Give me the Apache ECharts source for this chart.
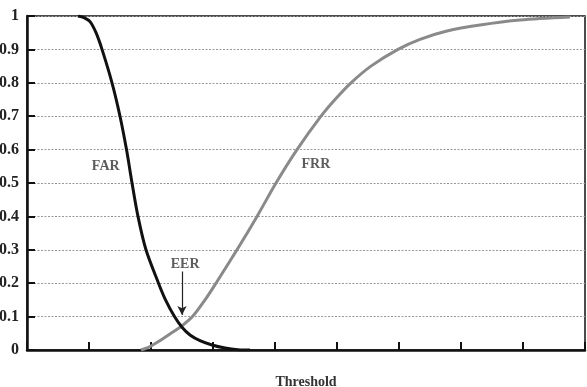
<!DOCTYPE html>
<html><head><meta charset="utf-8">
<script src="https://cdn.jsdelivr.net/npm/echarts@6/dist/echarts.min.js"></script>
<style>html,body{margin:0;padding:0;background:#fff}#c{width:587px;height:387px}</style>
</head><body><div id="c"></div>
<script>
var farX = [0.823, 0.919, 1.016, 1.113, 1.210, 1.371, 1.500, 1.605, 1.694, 1.790, 1.919, 2.121, 2.234, 2.379, 2.500, 2.629, 2.790, 2.984, 3.194, 3.403, 3.597];
var farY = [1.0, 0.995, 0.983, 0.95, 0.9, 0.8, 0.7, 0.6, 0.5, 0.4, 0.3, 0.2, 0.15, 0.1, 0.068, 0.045, 0.028, 0.015, 0.006, 0.001, 0.0];
var frrX = [1.839, 1.984, 2.161, 2.323, 2.516, 2.669, 2.871, 3.048, 3.387, 3.710, 4.016, 4.355, 4.742, 4.968, 5.226, 5.548, 5.984, 6.339, 6.774, 7.306, 7.952, 8.758];
var frrY = [0.0, 0.01, 0.03, 0.05, 0.075, 0.1, 0.15, 0.2, 0.3, 0.4, 0.5, 0.6, 0.7, 0.75, 0.8, 0.85, 0.9, 0.93, 0.955, 0.973, 0.988, 0.997];
var curveLabels = [{name: 'FAR', x: 1.27, y: 0.551}, {name: 'FRR', x: 4.66, y: 0.557}];
var eer = {name: 'EER', x: 2.5, labelX: 2.55, labelY: 0.255, arrowFrom: 0.235, arrowTo: 0.105};
var xAxisName = 'Threshold';

function pairs(xs, ys){ return xs.map(function(x,i){ return [x, ys[i]]; }); }
var serif = 'Liberation Serif';
var chart = echarts.init(document.getElementById('c'));
chart.setOption({
  animation: false,
  grid: {left: 27, right: 2, top: 16, bottom: 37, show: true, borderColor: '#111', borderWidth: 1.5,
         containLabel: false, outerBoundsMode: 'none'},
  xAxis: {
    type: 'value', min: 0, max: 9, interval: 1,
    name: xAxisName, nameLocation: 'middle', nameGap: 25,
    nameTextStyle: {fontFamily: serif, fontSize: 14, color: '#333', fontWeight: 'bold'},
    axisLine: {show: true, onZero: false, lineStyle: {color: '#111', width: 2.5}},
    axisTick: {show: true, inside: true, length: 8, lineStyle: {color: '#111', width: 2}},
    axisLabel: {show: false},
    splitLine: {show: false}
  },
  yAxis: {
    type: 'value', min: 0, max: 1, interval: 0.1,
    axisLine: {show: true, lineStyle: {color: '#111', width: 2.5}},
    axisTick: {show: true, inside: true, length: 8, lineStyle: {color: '#111', width: 2}},
    axisLabel: {fontFamily: serif, fontSize: 16, fontWeight: 'bold', color: '#222', margin: 8,
      formatter: function(v){ return (Math.round(v*10)/10).toString(); }},
    splitLine: {show: true, lineStyle: {color: '#999', width: 1, type: [2, 1.5]}}
  },
  series: [
    {type: 'line', name: 'FAR', data: pairs(farX, farY), smooth: 0.3, symbol: 'none',
     lineStyle: {color: '#111', width: 3}, z: 3},
    {type: 'line', name: 'FRR', data: pairs(frrX, frrY), smooth: 0.3, symbol: 'none',
     lineStyle: {color: '#8a8a8a', width: 3}, z: 2,
     markLine: {silent: true, symbol: ['none', 'arrow'], symbolSize: [7, 9],
       lineStyle: {color: '#222', width: 1.2, type: 'solid'}, label: {show: false},
       data: [[{coord: [eer.x, eer.arrowFrom]}, {coord: [eer.x, eer.arrowTo]}]]}},
    {type: 'scatter', symbolSize: 0, silent: true, z: 5,
     data: curveLabels.map(function(d){ return {name: d.name, value: [d.x, d.y]}; }).concat([{name: eer.name, value: [eer.labelX, eer.labelY]}]),
     label: {show: true, position: 'inside', formatter: '{b}', fontFamily: serif, fontSize: 14, color: '#333', fontWeight: 'bold'}}
  ]
});
</script></body></html>
